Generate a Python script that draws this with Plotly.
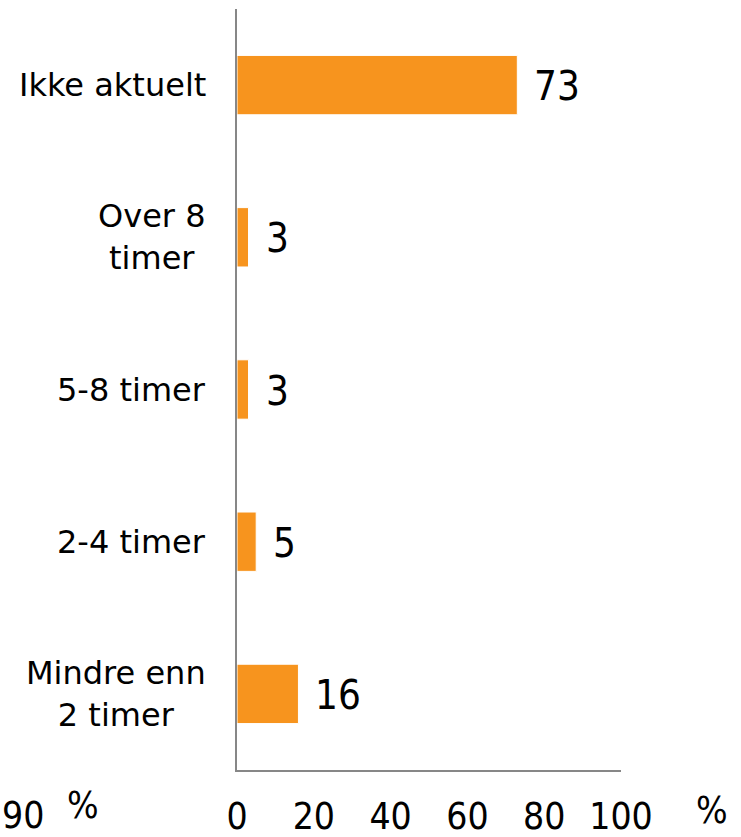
import plotly.graph_objects as go

# Survey answers, listed from the bottom bar to the top bar
categories = ["Mindre enn<br>2 timer", "2-4 timer", "5-8 timer", "Over 8<br>timer", "Ikke aktuelt"]
values = [16, 5, 3, 3, 73]
x_ticks = [0, 20, 40, 60, 80, 100]

BAR_COLOR = "#F7941E"
AXIS_COLOR = "#878787"
LABEL_FONT = "DejaVu Sans"
NUM_FONT = "DejaVu Sans Condensed, DejaVu Sans"

W, H = 741, 837
ML, MR, MT, MB = 237, 120, 9, 67
pw, ph = W - ML - MR, H - MT - MB


def px_to_paper(px, py):
    """Convert a pixel position (from top-left) to paper coordinates."""
    return (px - ML) / pw, (H - py - MB) / ph


fig = go.Figure(
    go.Bar(
        x=values,
        y=categories,
        orientation="h",
        width=0.39,
        marker=dict(color=BAR_COLOR, line=dict(color="white", width=1)),
        hoverinfo="skip",
    )
)

annotations = []
# value labels to the right of each bar
for cat, val in zip(categories, values):
    annotations.append(dict(
        x=val, y=cat, xref="x", yref="y", text=str(val), showarrow=False,
        xanchor="left", yanchor="middle", xshift=15, yshift=-1,
        font=dict(family=NUM_FONT, size=40, color="black"),
    ))
# category labels, centred line by line, right of the axis gap
for cat in categories:
    annotations.append(dict(
        x=0, y=cat, xref="paper", yref="y", text=cat, showarrow=False,
        xanchor="right", yanchor="middle", align="center", xshift=-29,
        font=dict(family=LABEL_FONT, size=32, color="black"),
    ))
# unit markers along the bottom
for text, px, py, anchor in [("%", 712, 810, "center"), ("%", 83, 805, "center"), ("90", 0, 815, "left")]:
    ax, ay = px_to_paper(px, py)
    annotations.append(dict(
        x=ax, y=ay, xref="paper", yref="paper", text=text, showarrow=False,
        xanchor=anchor, yanchor="middle",
        font=dict(family=NUM_FONT, size=37, color="black"),
    ))

fig.update_layout(
    width=W, height=H,
    margin=dict(l=ML, r=MR, t=MT, b=MB, pad=0, autoexpand=False),
    paper_bgcolor="white", plot_bgcolor="white",
    showlegend=False,
    annotations=annotations,
    xaxis=dict(
        range=[0, 100], tickvals=x_ticks, ticktext=[str(t) for t in x_ticks],
        showgrid=False, zeroline=False, showline=True, linecolor=AXIS_COLOR, linewidth=2,
        ticks="", ticklabelstandoff=13, automargin=False,
        tickfont=dict(family=NUM_FONT, size=37, color="black"),
        fixedrange=True,
    ),
    yaxis=dict(
        categoryorder="array", categoryarray=categories,
        showticklabels=False, showgrid=False, zeroline=False, automargin=False,
        showline=True, linecolor=AXIS_COLOR, linewidth=2, ticks="",
        fixedrange=True,
    ),
)

fig.write_html("out.html")
